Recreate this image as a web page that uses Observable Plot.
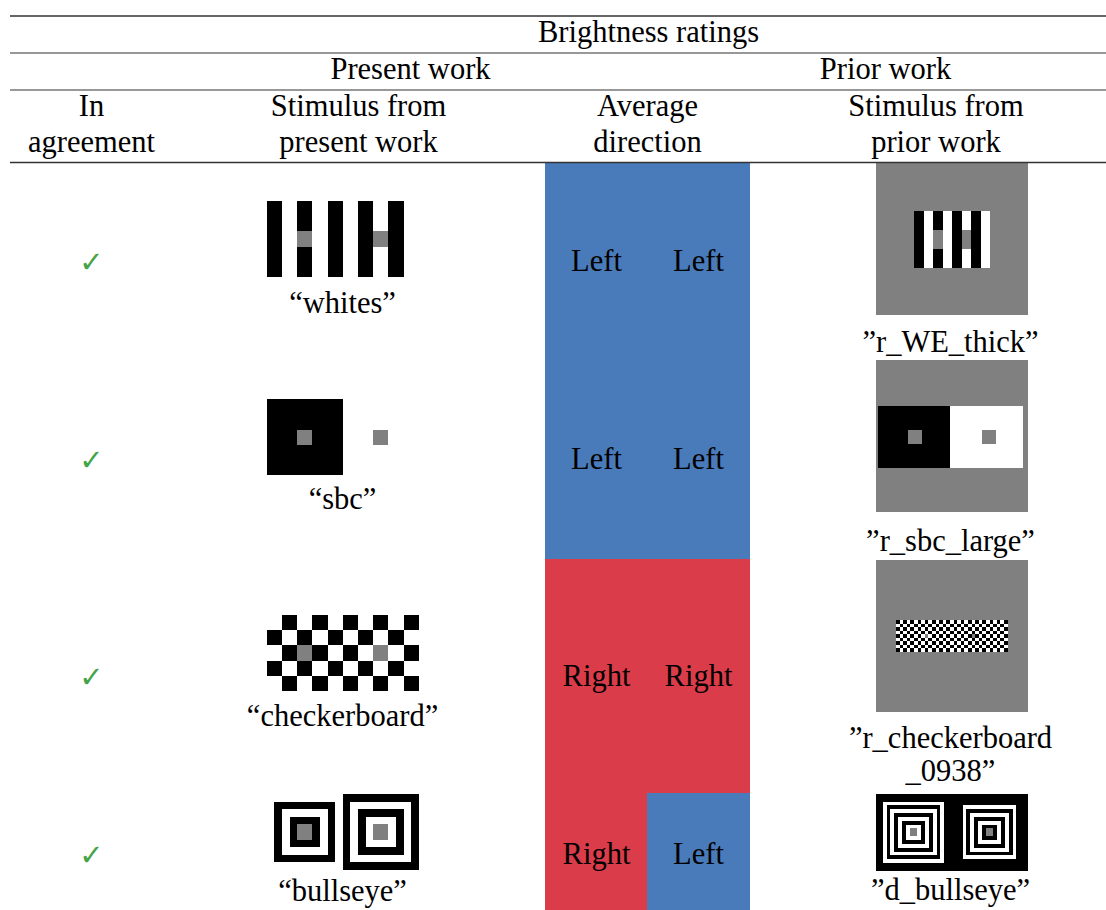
<!DOCTYPE html>
<html>
<head>
<meta charset="utf-8">
<script src="https://cdn.jsdelivr.net/npm/d3@7"></script>
<script src="https://cdn.jsdelivr.net/npm/@observablehq/plot@0.6"></script>
<style>
  html, body { margin: 0; padding: 0; background: #fff; overflow: hidden; }
  #chart svg { display: block; max-width: none; }
</style>
</head>
<body>
<div id="chart"></div>
<script>
// ---------------- table content ----------------
const headerTitle = "Brightness ratings";
const groupHeaders = ["Present work", "Prior work"];
const columnHeaders = [["In", "agreement"], ["Stimulus from", "present work"], ["Average", "direction"], ["Stimulus from", "prior work"]];
const presentNames = ["“whites”", "“sbc”", "“checkerboard”", "“bullseye”"];
const priorNames = [["”r_WE_thick”"], ["”r_sbc_large”"], ["”r_checkerboard", "_0938”"], ["”d_bullseye”"]];
const inAgreement = [true, true, true, true];
const presentDirection = ["Left", "Left", "Right", "Right"];
const priorDirection = ["Left", "Left", "Right", "Left"];

// ---------------- stimuli: K black, W white, G grey, . nothing ----------------
const whitesGrid = [
  "KWKWKWKWKW",
  "KWKWKWKWKW",
  "KWGWKWKGKW",
  "KWKWKWKWKW",
  "KWKWKWKWKW"
];
const sbcGrid = [
  "KKKKKWWWWW",
  "KKKKKWWWWW",
  "KKGKKWWGWW",
  "KKKKKWWWWW",
  "KKKKKWWWWW"
];
const checkerboardGrid = [
  "WKWKWKWKWK",
  "KWKWKWKWKW",
  "WKGKWKWGWK",
  "KWKWKWKWKW",
  "WKWKWKWKWK"
];
const bullseyeGrid = [
  "..........KKKKKKKKKK",
  ".KKKKKKKK.KWWWWWWWWK",
  ".KWWWWWWK.KWKKKKKKWK",
  ".KWKKKKWK.KWKWWWWKWK",
  ".KWKGGKWK.KWKWGGWKWK",
  ".KWKGGKWK.KWKWGGWKWK",
  ".KWKKKKWK.KWKWWWWKWK",
  ".KWWWWWWK.KWKKKKKKWK",
  ".KKKKKKKK.KWWWWWWWWK",
  "..........KKKKKKKKKK"
];
const weThickGrid = [
  "GGGGGGGGGGGGGGGG",
  "GGGGGGGGGGGGGGGG",
  "GGGGGGGGGGGGGGGG",
  "GGGGGGGGGGGGGGGG",
  "GGGGGGGGGGGGGGGG",
  "GGGGKWKWKWKWGGGG",
  "GGGGKWKWKWKWGGGG",
  "GGGGKWGWKGKWGGGG",
  "GGGGKWGWKGKWGGGG",
  "GGGGKWKWKWKWGGGG",
  "GGGGKWKWKWKWGGGG",
  "GGGGGGGGGGGGGGGG",
  "GGGGGGGGGGGGGGGG",
  "GGGGGGGGGGGGGGGG",
  "GGGGGGGGGGGGGGGG",
  "GGGGGGGGGGGGGGGG"
];
// r_sbc_large: [x1, y1, x2, y2, tone] in percent of the stimulus side, on grey
const sbcLargeParts = [
  [1.5, 30.5, 48.5, 71, "K"],
  [48.5, 30.5, 97, 71, "W"],
  [21.3, 46, 30.5, 55.5, "G"],
  [69.5, 46, 78.9, 55.5, "G"]
];
// r_checkerboard_0938: check field (percent box) on grey
const checker0938Box = [13.2, 39.5, 86.6, 60.3];
const checker0938Grid = [
  "KWKWKWKWKWKWKWKWKWKWKWKWKWKWKWK",
  "WKWKWKWKWKWKWKWKWKWKWKWKWKWKWKW",
  "KWKWKWKWKWKWKWKWKWKWKWKWKWKWKWK",
  "WKWKWKWKWKWKWKWKWKWKWKWKWKWKWKW",
  "KWKWKWKWGWKWKWKWKWKWKGKWKWKWKWK",
  "WKWKWKWKWKWKWKWKWKWKWKWKWKWKWKW",
  "KWKWKWKWKWKWKWKWKWKWKWKWKWKWKWK",
  "WKWKWKWKWKWKWKWKWKWKWKWKWKWKWKW",
  "KWKWKWKWKWKWKWKWKWKWKWKWKWKWKWK"
];
// d_bullseye: black field (percent of width) with two ring targets, rings listed outside-in
const dBullseyeField = [0, 0, 100, 50.5];
const dBullseyeTargets = [
  {cx: 24.7, cy: 25.2, unit: 2.53, rings: ["W", "K", "W", "K", "W", "K", "W", "G"]},
  {cx: 74.7, cy: 25.2, unit: 2.53, rings: ["W", "K", "W", "K", "W", "K", "G"]}
];

// ---------------- layout (page pixels) ----------------
const W = 1106, H = 910, S = 152;
const rules = [{y: 15.5, w: 1.6}, {y: 52.5, w: 1.1}, {y: 89.5, w: 1.1}, {y: 162, w: 1.3}];
const ruleX = [10, 1106];
const headX = [91, 358, 647, 935.5];
const headY = [105.5, 141.5];
const presentImgX = 266.7, presentLabelX = 342;
const priorImgX = 876, priorLabelX = 950;
const dirX = [545, 647, 750], dirTextX = [596, 698];
const rowBounds = [163, 360, 559, 793, 910];
const rowMid = [261, 459, 676, 854];
const presentImgY = [201, 399.3, 615, 794];
const presentLabelY = [303, 499, 716, 891];
const priorImgY = [163, 360, 560, 794];
const priorLabelY = [[341.5], [540.5], [738, 770.5], [890]];

// ---------------- build mark data ----------------
function gridRects(grid, x0, y0, w, h) {
  const rows = grid.length, cols = grid[0].length, cw = w / cols, ch = h / rows;
  const out = [];
  grid.forEach((row, r) => [...row].forEach((t, c) => {
    if (t !== ".") out.push({x1: x0 + c * cw, x2: x0 + (c + 1) * cw, y1: y0 + r * ch, y2: y0 + (r + 1) * ch, tone: t});
  }));
  return out;
}
const pct = (x0, y0, p) => ({x1: x0 + p[0] / 100 * S, y1: y0 + p[1] / 100 * S, x2: x0 + p[2] / 100 * S, y2: y0 + p[3] / 100 * S, tone: p[4]});

const stim = [];
[whitesGrid, sbcGrid, checkerboardGrid, bullseyeGrid].forEach((g, i) => stim.push(...gridRects(g, presentImgX, presentImgY[i], S, S / 2)));
stim.push(...gridRects(weThickGrid, priorImgX, priorImgY[0], S, S));
stim.push(pct(priorImgX, priorImgY[1], [0, 0, 100, 100, "G"]));
sbcLargeParts.forEach(p => stim.push(pct(priorImgX, priorImgY[1], p)));
stim.push(pct(priorImgX, priorImgY[2], [0, 0, 100, 100, "G"]));
{
  const b = pct(priorImgX, priorImgY[2], [...checker0938Box, ""]);
  stim.push(...gridRects(checker0938Grid, b.x1, b.y1, b.x2 - b.x1, b.y2 - b.y1));
}
stim.push(pct(priorImgX, priorImgY[3], [...dBullseyeField, "K"]));
dBullseyeTargets.forEach(t => {
  const n = t.rings.length;
  t.rings.forEach((tone, k) => {
    const half = (n - k) * t.unit;
    stim.push(pct(priorImgX, priorImgY[3], [t.cx - half, t.cy - half, t.cx + half, t.cy + half, tone]));
  });
});

const dirCells = [];
for (let i = 0; i < 4; i++) {
  dirCells.push({x1: dirX[0], x2: dirX[1], y1: rowBounds[i], y2: rowBounds[i + 1], dir: presentDirection[i]});
  dirCells.push({x1: dirX[1], x2: dirX[2], y1: rowBounds[i], y2: rowBounds[i + 1], dir: priorDirection[i]});
}

const texts = [];
texts.push({x: 648, y: 31.5, text: headerTitle});
texts.push({x: 410, y: 68.5, text: groupHeaders[0]});
texts.push({x: 885, y: 68.5, text: groupHeaders[1]});
columnHeaders.forEach((lines, j) => lines.forEach((t, k) => texts.push({x: headX[j], y: headY[k], text: t})));
presentNames.forEach((t, i) => texts.push({x: presentLabelX, y: presentLabelY[i], text: t}));
priorNames.forEach((lines, i) => lines.forEach((t, k) => texts.push({x: priorLabelX, y: priorLabelY[i][k], text: t})));
for (let i = 0; i < 4; i++) {
  texts.push({x: dirTextX[0], y: rowMid[i], text: presentDirection[i]});
  texts.push({x: dirTextX[1], y: rowMid[i], text: priorDirection[i]});
}
const checks = inAgreement.map((v, i) => ({x: headX[0], y: rowMid[i] + 1, text: v ? "✓" : ""}));

const chart = Plot.plot({
  width: W, height: H, margin: 0,
  x: {domain: [0, W], range: [0, W], axis: null},
  y: {domain: [0, H], range: [0, H], axis: null},
  color: {domain: ["K", "W", "G", "Left", "Right"], range: ["#000000", "#ffffff", "#808080", "#497bbb", "#da3c4a"]},
  style: {background: "#fff"},
  marks: [
    Plot.rect(dirCells, {x1: "x1", x2: "x2", y1: "y1", y2: "y2", fill: "dir", shapeRendering: "crispEdges"}),
    Plot.rect(stim, {x1: "x1", x2: "x2", y1: "y1", y2: "y2", fill: "tone", shapeRendering: "crispEdges"}),
    Plot.ruleY(rules, {y: "y", x1: ruleX[0], x2: ruleX[1], stroke: "#333", strokeWidth: "w"}),
    Plot.text(texts, {x: "x", y: "y", text: "text", fontSize: 30.5, fill: "#000", fontFamily: "Liberation Serif", lineAnchor: "middle", textAnchor: "middle"}),
    Plot.text(checks, {x: "x", y: "y", text: "text", fontSize: 29, fill: "#45a348", fontFamily: "DejaVu Sans", lineAnchor: "middle", textAnchor: "middle"})
  ]
});
document.getElementById("chart").append(chart);
</script>
</body>
</html>
